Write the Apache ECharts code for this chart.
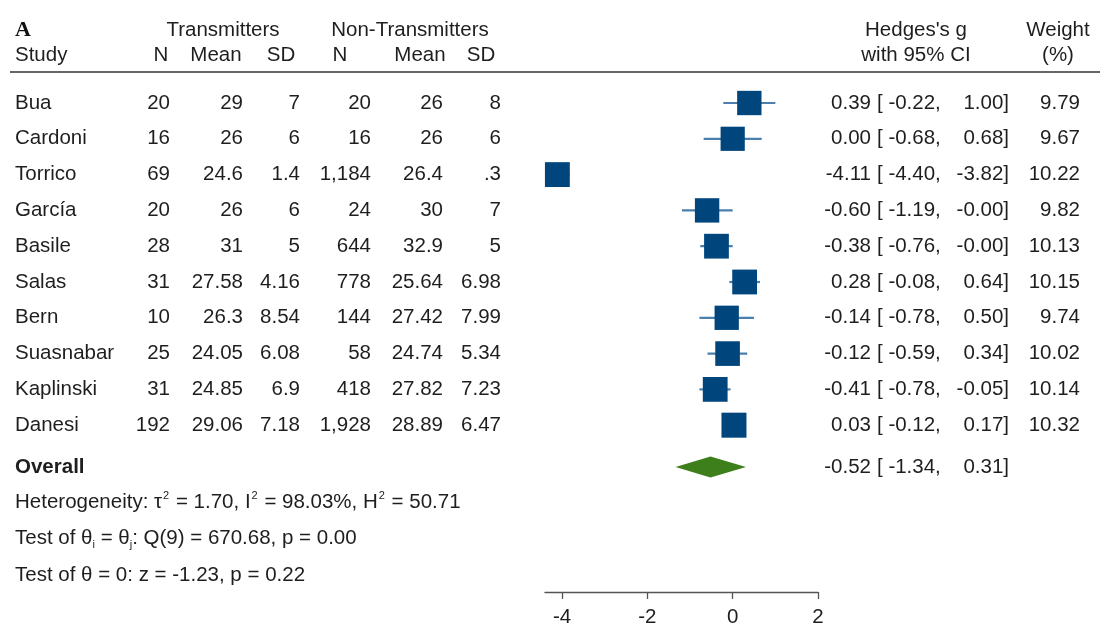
<!DOCTYPE html>
<html>
<head>
<meta charset="utf-8">
<script src="https://cdn.jsdelivr.net/npm/echarts@6/dist/echarts.min.js"></script>
<style>
  html, body { margin: 0; padding: 0; background: #fff; }
  #chart { width: 1106px; height: 635px; }
</style>
</head>
<body>
<div id="chart"></div>
<script>
// Study-level data
const studies   = ['Bua', 'Cardoni', 'Torrico', 'García', 'Basile', 'Salas', 'Bern', 'Suasnabar', 'Kaplinski', 'Danesi'];
const tN        = [20, 16, 69, 20, 28, 31, 10, 25, 31, 192];
const tMean     = [29, 26, 24.6, 26, 31, 27.58, 26.3, 24.05, 24.85, 29.06];
const tSD       = [7, 6, 1.4, 6, 5, 4.16, 8.54, 6.08, 6.9, 7.18];
const nN        = [20, 16, 1184, 24, 644, 778, 144, 58, 418, 1928];
const nMean     = [26, 26, 26.4, 30, 32.9, 25.64, 27.42, 24.74, 27.82, 28.89];
const nSD       = [8, 6, 0.3, 7, 5, 6.98, 7.99, 5.34, 7.23, 6.47];
const hedgesG   = [0.39, 0.00, -4.11, -0.60, -0.38, 0.28, -0.14, -0.12, -0.41, 0.03];
const ciLow     = [-0.22, -0.68, -4.40, -1.19, -0.76, -0.08, -0.78, -0.59, -0.78, -0.12];
const ciHigh    = [1.00, 0.68, -3.82, -0.00, -0.00, 0.64, 0.50, 0.34, -0.05, 0.17];
const weightPct = [9.79, 9.67, 10.22, 9.82, 10.13, 10.15, 9.74, 10.02, 10.14, 10.32];

// Pooled estimate
const overall = { g: -0.52, low: -1.34, high: 0.31 };

// Axis ticks
const xTicks = [-4, -2, 0, 2];

// ---- layout ----
const FONT = '"Liberation Sans", Arial, sans-serif';
const FS = 20.5;
const TXT = '#1e1e1e';
const ROW_OVERALL = 10.17;
const rowsAll = studies.map((_, i) => i);

function fmtCount(v) { return v.toLocaleString('en-US'); }
function fmtStat(v) { const s = String(v); return (v > 0 && v < 1) ? s.replace(/^0/, '') : s; }
function fmt2(v) { return (v < 0 || Object.is(v, -0)) ? '-' + Math.abs(v).toFixed(2) : v.toFixed(2); }

// A text column placed on the plot's y scale
function textColumn(rows, texts, x, align, bold) {
  return {
    type: 'custom',
    coordinateSystem: 'cartesian2d',
    silent: true,
    clip: false,
    data: rows.map(r => [0, r]),
    renderItem: function (params, api) {
      const y = api.coord([0, api.value(1)])[1];
      return {
        type: 'text',
        x: x, y: y,
        style: {
          text: texts[params.dataIndex],
          fill: TXT,
          font: (bold ? 'bold ' : '') + FS + 'px ' + FONT,
          align: align,
          verticalAlign: 'middle'
        }
      };
    }
  };
}

const rowsWithOverall = rowsAll.concat([ROW_OVERALL]);
const gAll = hedgesG.concat([overall.g]);
const loAll = ciLow.concat([overall.low]);
const hiAll = ciHigh.concat([overall.high]);

const series = [
  textColumn(rowsAll, studies, 15, 'left'),
  textColumn([ROW_OVERALL], ['Overall'], 15, 'left', true),
  textColumn(rowsAll, tN.map(fmtCount), 170, 'right'),
  textColumn(rowsAll, tMean.map(fmtStat), 243, 'right'),
  textColumn(rowsAll, tSD.map(fmtStat), 300, 'right'),
  textColumn(rowsAll, nN.map(fmtCount), 371, 'right'),
  textColumn(rowsAll, nMean.map(fmtStat), 443, 'right'),
  textColumn(rowsAll, nSD.map(fmtStat), 501, 'right'),
  textColumn(rowsWithOverall, gAll.map(fmt2), 871, 'right'),
  textColumn(rowsWithOverall, loAll.map(v => '[ ' + fmt2(v) + ','), 877, 'left'),
  textColumn(rowsWithOverall, hiAll.map(v => fmt2(v) + ']'), 1009, 'right'),
  textColumn(rowsAll, weightPct.map(v => v.toFixed(2)), 1080, 'right'),
  // confidence intervals
  {
    type: 'custom',
    coordinateSystem: 'cartesian2d',
    silent: true,
    data: rowsAll.map(i => [ciLow[i], ciHigh[i], i]),
    encode: { x: [0, 1], y: 2 },
    renderItem: function (params, api) {
      const a = api.coord([api.value(0), api.value(2)]);
      const b = api.coord([api.value(1), api.value(2)]);
      return { type: 'line', shape: { x1: a[0], y1: a[1], x2: b[0], y2: b[1] },
               style: { stroke: '#4a7fae', lineWidth: 2.2 } };
    },
    z: 1
  },
  // study estimates, square area proportional to weight
  {
    type: 'scatter',
    symbol: 'rect',
    silent: true,
    data: rowsAll.map(i => [hedgesG[i], i, weightPct[i]]),
    symbolSize: function (v) { return 25 * Math.sqrt(v[2] / 10.32); },
    itemStyle: { color: '#00467d', opacity: 1 },
    z: 5
  },
  // pooled diamond
  {
    type: 'custom',
    coordinateSystem: 'cartesian2d',
    silent: true,
    data: [[overall.low, overall.g, overall.high, ROW_OVERALL]],
    encode: { x: [0, 1, 2], y: 3 },
    renderItem: function (params, api) {
      const r = api.value(3);
      const l = api.coord([api.value(0), r]);
      const c = api.coord([api.value(1), r]);
      const h = api.coord([api.value(2), r]);
      const half = 10.5;
      return { type: 'polygon',
               shape: { points: [[l[0], l[1]], [c[0], c[1] - half], [h[0], h[1]], [c[0], c[1] + half]] },
               style: { fill: '#3c7f1b' } };
    },
    z: 3
  }
];

const chart = echarts.init(document.getElementById('chart'), null, { renderer: 'canvas' });

const hdr = (text, x, y, align, extra) => ({
  type: 'text', x: x, y: y,
  style: Object.assign({ text: text, fill: TXT, font: FS + 'px ' + FONT, align: align || 'center', verticalAlign: 'middle' }, extra || {})
});

const statRich = {
  sup: { fontSize: 11, fontFamily: FONT, fill: TXT, color: TXT, verticalAlign: 'top', padding: [0, 1, 0, 1] },
  sub: { fontSize: 11, fontFamily: FONT, fill: TXT, color: TXT, verticalAlign: 'bottom' }
};

chart.setOption({
  animation: false,
  grid: { left: 545, right: 288, top: 67.2, bottom: 43, containLabel: false },
  xAxis: {
    type: 'value', min: -4.4, max: 2,
    splitLine: { show: false },
    axisLine: { show: true, onZero: false, lineStyle: { color: '#555', width: 1.3 } },
    axisTick: { show: true, customValues: xTicks, length: 7, lineStyle: { color: '#555', width: 1.3 } },
    axisLabel: { customValues: xTicks, color: TXT, fontSize: 20.5, fontFamily: FONT, margin: 15 }
  },
  yAxis: { type: 'value', inverse: true, min: -1, max: 13.66, show: false },
  graphic: [
    hdr('A', 15, 30, 'left', { font: 'bold 22px "Liberation Serif", "Times New Roman", serif', fill: '#111' }),
    hdr('Transmitters', 223, 30),
    hdr('Non-Transmitters', 410, 30),
    hdr('Study', 15, 55, 'left'),
    hdr('N', 161, 55),
    hdr('Mean', 216, 55),
    hdr('SD', 281, 55),
    hdr('N', 340, 55),
    hdr('Mean', 420, 55),
    hdr('SD', 481, 55),
    hdr("Hedges's g", 916, 30),
    hdr('with 95% CI', 916, 55),
    hdr('Weight', 1058, 30),
    hdr('(%)', 1058, 55),
    { type: 'line', shape: { x1: 10, y1: 72, x2: 1100, y2: 72 }, style: { stroke: '#333', lineWidth: 1.6 } },
    {
      type: 'text', x: 15, y: 502,
      style: {
        text: 'Heterogeneity: τ{sup|2} = 1.70, I{sup|2} = 98.03%, H{sup|2} = 50.71',
        rich: statRich, fill: TXT, font: FS + 'px ' + FONT, align: 'left', verticalAlign: 'middle', lineHeight: 24
      }
    },
    {
      type: 'text', x: 15, y: 538,
      style: {
        text: 'Test of θ{sub|i} = θ{sub|j}: Q(9) = 670.68, p = 0.00',
        rich: statRich, fill: TXT, font: FS + 'px ' + FONT, align: 'left', verticalAlign: 'middle', lineHeight: 24
      }
    },
    hdr('Test of θ = 0: z = -1.23, p = 0.22', 15, 575, 'left')
  ],
  series: series
});
</script>
</body>
</html>
